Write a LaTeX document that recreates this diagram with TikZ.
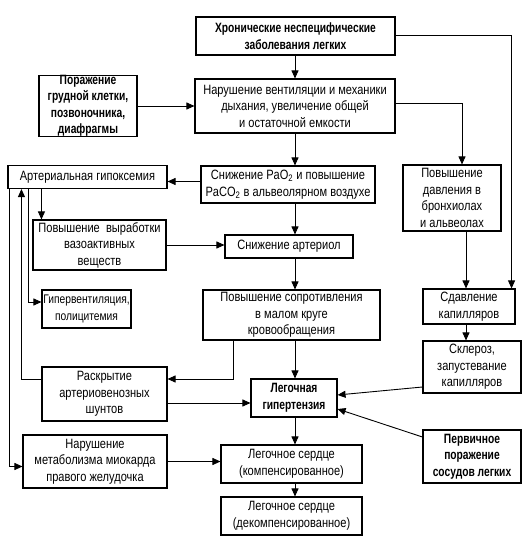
\documentclass[tikz,border=0pt]{standalone}
\usepackage{fontspec}
\setmainfont{Liberation Sans}[FakeStretch=0.82]
\newfontfamily\narrowbold{Liberation Sans}[FakeStretch=0.76]
\usetikzlibrary{arrows.meta}

\begin{document}
\begin{tikzpicture}[x=1pt,y=-1pt,
    box/.style={draw,line width=1.1pt,align=center,inner sep=0pt,font=\fontsize{13.5}{16.5}\selectfont},
    bbox/.style={box,font=\fontsize{13.5}{16.5}\selectfont\narrowbold\bfseries},
    arr/.style={line width=0.9pt,-{Triangle[length=8pt,width=7pt]}}]
                \useasboundingbox (0,0) rectangle (531,545);

                % Top of the chain
                \node[bbox,minimum width=199,minimum height=38] (khron) at (295.5,36) {Хронические неспецифические\\заболевания легких};
                \node[bbox,minimum width=98,minimum height=58] (porazh) at (88,106) {Поражение\\грудной клетки,\\позвоночника,\\диафрагмы};
                \node[box,minimum width=200,minimum height=54] (narush) at (295,106) {Нарушение вентиляции и механики\\дыхания, увеличение общей\\и остаточной емкости};

                % Middle column
                \node[box,minimum width=174,minimum height=37] (pao) at (288,184.5) {Снижение PaO\textsubscript{2} и повышение\\PaCO\textsubscript{2} в альвеолярном воздухе};
                \node[box,minimum width=128,minimum height=23] (arteriol) at (289,246.5) {Снижение артериол};
                \node[box,minimum width=177,minimum height=50] (soprot) at (291.5,315) {Повышение сопротивления\\в малом круге\\кровообращения};
                \node[bbox,minimum width=86,minimum height=38] (gipert) at (294,398) {Легочная\\гипертензия};
                \node[box,minimum width=141,minimum height=38] (komp) at (291.5,464) {Легочное сердце\\(компенсированное)};
                \node[box,minimum width=141,minimum height=38] (dekomp) at (291.5,516) {Легочное сердце\\(декомпенсированное)};

                % Left column
                \node[box,minimum width=159,minimum height=23] (gipoks) at (87.5,177) {Артериальная гипоксемия};
                \node[box,minimum width=133,minimum height=50] (vyrab) at (99.5,245) {Повышение\ \ выработки\\вазоактивных\\веществ};
                \node[box,minimum width=89,minimum height=38,font=\fontsize{12.5}{16.5}\selectfont] (giperv) at (86.5,309) {Гипервентиляция,\\полицитемия};
                \node[box,minimum width=125,minimum height=54] (raskr) at (104.5,394) {Раскрытие\\артериовенозных\\шунтов};
                \node[box,minimum width=144,minimum height=53] (metab) at (95,461.5) {Нарушение\\метаболизма миокарда\\правого желудочка};

                % Right column
                \node[box,minimum width=98,minimum height=66] (davl) at (452,198) {Повышение\\давления в\\бронхиолах\\и альвеолах};
                \node[box,minimum width=92,minimum height=35] (sdavl) at (469,306.5) {Сдавление\\капилляров};
                \node[box,minimum width=98,minimum height=52] (skleroz) at (472,367) {Склероз,\\запустевание\\капилляров};
                \node[bbox,minimum width=98,minimum height=53] (perv) at (472,456.5) {Первичное\\поражение\\сосудов легких};

                \coordinate (ax) at (295,0);

                % Main chain
                \draw[arr] (khron.south -| ax) -- (narush.north -| ax);
                \draw[arr] (narush.south -| ax) -- (pao.north -| ax);
                \draw[arr] (pao.south -| ax) -- (arteriol.north -| ax);
                \draw[arr] (arteriol.south -| ax) -- (soprot.north -| ax);
                \draw[arr] (soprot.south -| ax) -- (gipert.north -| ax);
                \draw[arr] (gipert.south -| ax) -- (komp.north -| ax);
                \draw[arr] (komp.south -| ax) -- (dekomp.north -| ax);
                \draw[arr] (porazh.east) -- (porazh.east -| narush.west);

                % Right branch
                \draw[arr] ([yshift=1]khron.east) -| ([xshift=-4]sdavl.north east);
                \draw[arr] ([yshift=3]narush.east) -| ([xshift=10]davl.north);
                \draw[arr] ([xshift=14]davl.south) -- ([xshift=14]davl.south |- sdavl.north);
                \draw[arr] ([xshift=-3]sdavl.south) -- ([xshift=-3]sdavl.south |- skleroz.north);
                \draw[arr] ([yshift=-20]skleroz.west) -- ([yshift=3]gipert.east);
                \draw[arr] ([yshift=19.5]perv.west) -- ([yshift=-11]gipert.east);

                % Left branch
                \draw[arr] ([yshift=3]pao.west) -- ([yshift=3]pao.west -| gipoks.east);
                \draw[arr] ([xshift=34]gipoks.south west) -- ([xshift=34]gipoks.south west |- vyrab.north);
                \draw[arr] (vyrab.east) -- (vyrab.east -| arteriol.west);
                \draw[arr] ([xshift=21]gipoks.south west) |- ([yshift=7]giperv.west);
                \draw[arr] ([yshift=15]raskr.west) -| ([xshift=14]gipoks.south west);
                \draw[arr] ([xshift=-58]soprot.south) |- ([yshift=15]raskr.east);
                \draw[arr] ([yshift=-9]raskr.east) -- ([yshift=-9]raskr.east -| gipert.west);
                \draw[arr] ([xshift=2]gipoks.south west) |- ([yshift=-5]metab.west);
                \draw[arr] (metab.east) -- (metab.east -| komp.west);
\end{tikzpicture}
\end{document}
